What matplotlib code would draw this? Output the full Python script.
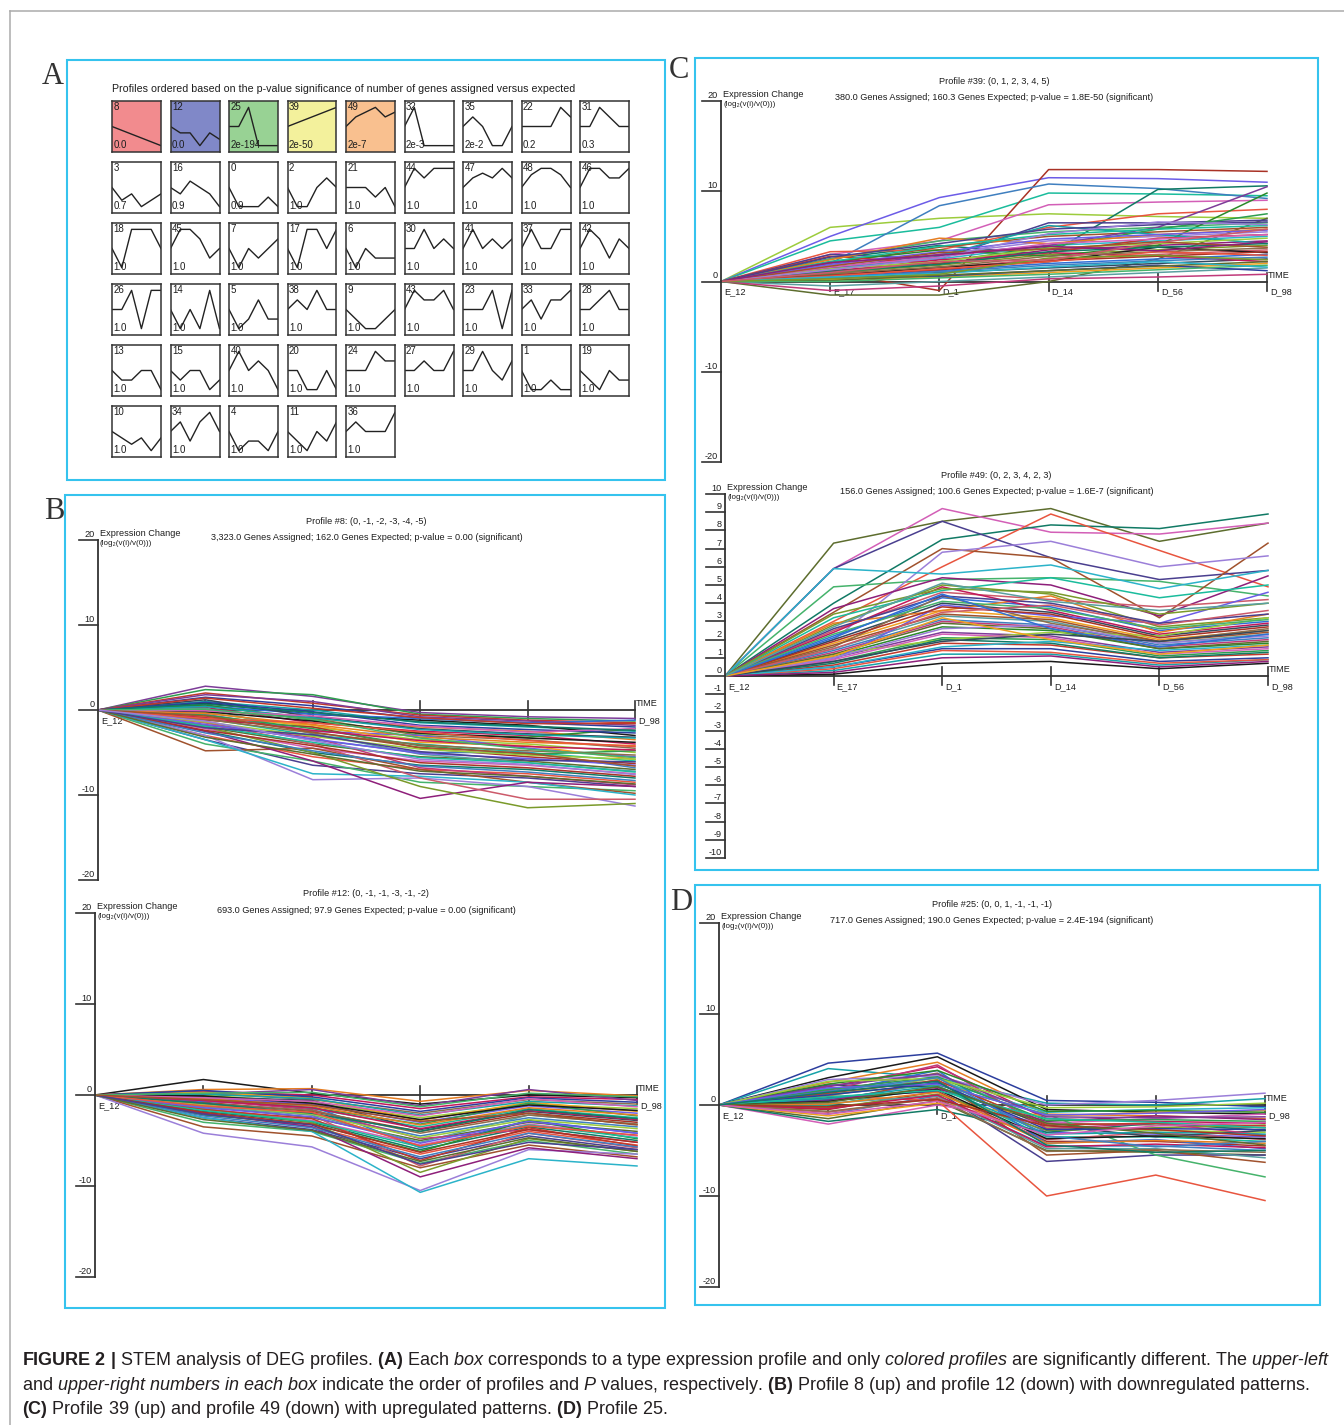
import numpy as np
import matplotlib
matplotlib.use('Agg')
import matplotlib.pyplot as plt
from matplotlib import font_manager
from matplotlib.patches import Rectangle

W, H = 1344, 1425

# fonts: STEM screenshots use a narrow Arial-like face
installed = {f.name for f in font_manager.fontManager.ttflist}
if 'Liberation Sans Narrow' in installed:
    stem_font = ['Liberation Sans Narrow', 'DejaVu Sans']
    fs = 8.0
else:
    stem_font = ['Liberation Sans', 'DejaVu Sans']
    fs = 6.6

plt.rcParams['font.family'] = ['Liberation Sans', 'DejaVu Sans']
plt.rcParams['mathtext.fontset'] = 'custom'
plt.rcParams['mathtext.rm'] = 'Liberation Sans'
plt.rcParams['mathtext.it'] = 'Liberation Sans:italic'
plt.rcParams['mathtext.bf'] = 'Liberation Sans:bold'

# ------------------------------------------------------------------
# data
# ------------------------------------------------------------------
time_labels = ['E_12', 'E_17', 'D_1', 'D_14', 'D_56', 'D_98']

# panel A: profile ids, p-values and model profile shapes
grid_ids = [[8, 12, 25, 39, 49, 32, 35, 22, 31],
            [3, 16, 0, 2, 21, 44, 47, 48, 46],
            [18, 45, 7, 17, 6, 30, 41, 37, 42],
            [26, 14, 5, 38, 9, 43, 23, 33, 28],
            [13, 15, 40, 20, 24, 27, 29, 1, 19],
            [10, 34, 4, 11, 36]]
grid_pvals = [['0.0', '0.0', '2e-194', '2e-50', '2e-7', '2e-3', '2e-2', '0.2', '0.3'],
              ['0.7', '0.9', '0.9', '1.0', '1.0', '1.0', '1.0', '1.0', '1.0'],
              ['1.0'] * 9,
              ['1.0'] * 9,
              ['1.0'] * 9,
              ['1.0'] * 5]
profiles = {
    8: [0, -1, -2, -3, -4, -5], 12: [0, -1, -1, -3, -1, -2], 25: [0, 0, 1, -1, -1, -1],
    39: [0, 1, 2, 3, 4, 5], 49: [0, 2, 3, 4, 2, 3], 32: [0, 1, -1, -1, -1, -1],
    35: [0, 1, 0, -2, -2, 0], 22: [0, 0, 0, 0, 2, 1], 31: [0, 0, 2, 1, 0, 0],
    3: [0, -2, -1, -3, -2, -1], 16: [0, -1, 1, 0, -1, -3], 0: [0, -2, -2, -2, -1, -2],
    2: [0, -2, -2, 0, 1, 0], 21: [0, 0, 0, -1, 0, -2], 44: [0, 2, 1, 2, 2, 2],
    47: [0, 2, 3, 2, 4, 2], 48: [0, 2, 3, 3, 2, 0], 46: [0, 2, 2, 1, 1, 2],
    18: [0, -2, 2, 2, 2, 0], 45: [0, 2, 2, 1, -1, 0], 7: [0, -2, 0, -1, 0, 1],
    17: [0, -2, 2, 2, 0, 2], 6: [0, -2, 0, -1, -1, -1], 30: [0, 0, 2, 0, 1, 0],
    41: [0, 2, 0, 1, 0, 1], 37: [0, 2, 0, 0, 2, 2], 42: [0, 2, 1, -1, 1, 0],
    26: [0, 0, 2, -2, 2, 2], 14: [0, -2, 0, -2, 2, -2], 5: [0, -2, -1, 1, -1, -1],
    38: [0, 1, 0, 2, 0, 0], 9: [0, -1, -2, -2, -1, 0], 43: [0, 2, 1, 1, 2, 0],
    23: [0, 0, 0, 2, -2, 2], 33: [0, 1, -1, 1, 1, 2], 28: [0, 0, 1, 2, 0, 0],
    13: [0, -1, -1, 0, 0, -2], 15: [0, -1, 0, 0, -2, -1], 40: [0, 2, 0, 1, 0, -2],
    20: [0, 0, -2, -2, 0, -2], 24: [0, 0, 0, 2, 1, 1], 27: [0, 0, 1, 0, 0, 2],
    29: [0, 0, 2, 0, -1, 1], 1: [0, -2, -2, -1, -2, -2], 19: [0, -1, -2, 0, -1, -1],
    10: [0, -1, -2, -1, -3, -1], 34: [0, 1, -1, 1, 2, 0], 4: [0, -2, -1, -1, -2, 0],
    11: [0, -1, -2, 0, -1, 1], 36: [0, 1, 0, 0, 0, 2],
}

# gene expression change (log2 v(i)/v(0))
genes_p8 = [
    [0, 2.8, 1.6, -0.3, -0.8, -1.0], [0, 2.4, 1.8, -0.5, -1.0, -1.3],
    [0, 2.0, 0.8, -0.6, -1.2, -1.5], [0, 1.5, 0.5, -1.0, -1.5, -2.0],
    [0, 1.0, 0.0, -1.5, -2.0, -2.5], [0, 0.8, -0.5, -1.2, -1.8, -3.0],
    [0, 0.5, -1.0, -2.0, -2.5, -3.5], [0, 0.3, -1.5, -2.5, -3.0, -4.0],
    [0, 0.0, -1.0, -3.0, -3.5, -4.5], [0, -0.3, -2.0, -3.5, -4.0, -5.0],
    [0, -0.5, -2.5, -3.0, -4.5, -5.5], [0, -1.0, -3.0, -4.0, -5.0, -6.0],
    [0, -1.2, -2.0, -4.5, -5.5, -6.3], [0, -1.5, -3.5, -5.0, -5.0, -6.8],
    [0, -2.0, -4.0, -5.5, -6.0, -7.0], [0, -2.2, -4.5, -6.0, -6.5, -7.5],
    [0, -2.5, -5.0, -6.5, -7.0, -8.0], [0, -3.0, -5.5, -7.0, -7.5, -8.5],
    [0, -3.5, -6.5, -7.5, -8.0, -9.0], [0, -4.0, -6.0, -8.5, -9.0, -9.5],
    [0, -4.8, -4.5, -7.0, -8.5, -9.8], [0, -3.0, -8.2, -8.0, -9.0, -11.3],
    [0, -3.5, -7.5, -7.8, -8.5, -10.0], [0, -2.5, -6.0, -10.4, -8.5, -9.0],
    [0, -2.0, -5.0, -9.0, -11.5, -11.0], [0, -1.5, -4.0, -8.0, -10.5, -10.5],
    [0, 0.5, -0.5, -1.0, -1.5, -1.2], [0, 1.2, -0.8, -2.2, -2.8, -3.2],
    [0, -0.8, -1.8, -3.8, -4.2, -5.8], [0, 0.2, -2.8, -5.2, -6.2, -7.2],
    [0, -1.8, -3.2, -6.8, -7.8, -8.8], [0, 0.6, -1.2, -2.8, -3.2, -2.2],
    [0, 1.8, 1.0, -0.8, -1.3, -1.8], [0, -0.6, -2.2, -4.2, -5.2, -4.8],
    [0, 1.4, 0.2, -0.9, -1.6, -1.6], [0, 0.9, -0.2, -1.8, -2.3, -2.7],
    [0, 0.4, -0.9, -2.3, -2.9, -3.3], [0, -0.2, -1.3, -2.7, -3.3, -3.8],
    [0, -0.4, -1.7, -3.2, -3.8, -4.2], [0, -0.9, -2.4, -3.6, -4.3, -4.7],
    [0, -1.1, -2.7, -4.1, -4.8, -5.3], [0, -1.4, -3.1, -4.6, -5.3, -5.8],
    [0, -1.7, -3.4, -5.1, -5.7, -6.5], [0, -1.9, -3.8, -5.6, -6.2, -7.3],
    [0, -2.4, -4.2, -6.2, -6.8, -7.8], [0, -2.7, -4.8, -6.6, -7.3, -8.3],
    [0, -3.2, -5.2, -7.2, -7.8, -8.7], [0, -0.1, -0.7, -1.9, -2.6, -2.2],
    [0, 0.7, -0.3, -1.4, -1.9, -2.4], [0, -1.0, -1.5, -2.6, -3.6, -4.3],
    [0, -2.1, -2.9, -4.9, -5.9, -6.1], [0, 0.1, -1.1, -3.3, -4.6, -5.6],
    [0, -0.7, -2.6, -4.4, -5.1, -6.6], [0, -1.3, -3.6, -5.8, -6.4, -7.6],
]
genes_p12 = [
    [0, 1.7, 0.2, -1.0, 0.0, -0.3], [0, 0.6, 0.7, -0.7, 0.5, -0.1],
    [0, 0.4, 0.0, -1.5, -0.2, -0.5], [0, 0.2, -0.5, -2.0, -0.5, -1.0],
    [0, 0.0, -0.8, -2.5, -1.0, -1.5], [0, -0.3, -1.0, -3.0, -1.2, -2.0],
    [0, -0.5, -1.5, -3.5, -1.5, -2.5], [0, -0.8, -1.8, -4.0, -2.0, -3.0],
    [0, -1.0, -2.0, -4.5, -2.5, -3.5], [0, -1.2, -2.5, -5.0, -3.0, -4.0],
    [0, -1.5, -2.8, -5.5, -3.2, -4.5], [0, -1.8, -3.0, -6.0, -3.5, -5.0],
    [0, -2.0, -3.5, -6.5, -4.0, -5.5], [0, -2.5, -3.8, -7.0, -4.5, -6.0],
    [0, -3.0, -4.0, -7.5, -5.0, -6.5], [0, -3.5, -4.5, -8.0, -5.5, -6.8],
    [0, -4.2, -5.7, -10.5, -6.0, -6.5], [0, -2.5, -4.0, -10.7, -7.0, -7.8],
    [0, -2.0, -3.5, -9.0, -5.8, -7.0], [0, -1.5, -3.0, -8.5, -4.8, -6.2],
    [0, -1.0, -2.2, -7.8, -4.2, -5.8], [0, -0.7, -1.2, -5.8, -2.8, -4.2],
    [0, -0.2, -0.6, -3.8, -1.8, -2.8], [0, 0.3, -0.3, -2.8, -0.8, -1.8],
    [0, -1.3, -2.2, -5.2, -2.2, -3.2], [0, -0.6, -1.6, -4.8, -3.8, -5.2],
    [0, -2.2, -3.2, -6.2, -2.8, -4.8], [0, 0.1, 0.6, -1.2, 0.6, -0.6],
    [0, -0.4, -1.4, -3.2, -0.9, -2.3], [0, -1.6, -2.6, -7.2, -3.6, -5.6],
    [0, 0.5, -0.2, -1.8, -0.3, -0.8], [0, 0.1, -0.4, -2.2, -0.7, -1.2],
    [0, -0.1, -0.9, -2.7, -1.1, -1.7], [0, -0.4, -1.2, -3.3, -1.4, -2.2],
    [0, -0.6, -1.4, -3.7, -1.7, -2.7], [0, -0.9, -1.7, -4.2, -2.2, -3.2],
    [0, -1.1, -2.1, -4.7, -2.7, -3.7], [0, -1.4, -2.4, -5.3, -2.9, -4.2],
    [0, -1.7, -2.9, -5.7, -3.3, -4.7], [0, -1.9, -3.2, -6.3, -3.8, -5.2],
    [0, -2.3, -3.6, -6.8, -4.2, -5.7], [0, -2.7, -3.9, -7.3, -4.7, -6.2],
    [0, -0.3, -0.7, -2.3, -0.4, -1.3], [0, -0.9, -2.0, -4.0, -1.6, -2.6],
    [0, -1.2, -1.9, -5.6, -3.4, -4.4], [0, -2.1, -3.3, -7.6, -5.2, -6.0],
    [0, 0.2, 0.3, -1.3, 0.2, -0.2], [0, -0.5, -1.1, -2.9, -2.0, -3.3],
]
genes_p39 = [
    [0, 6.0, 7.0, 7.5, 7.2, 7.0], [0, 5.0, 9.3, 11.5, 11.4, 11.0],
    [0, 4.5, 6.0, 9.8, 9.7, 9.5], [0, 1.0, -1.0, 12.4, 12.4, 12.2],
    [0, 2.0, 8.4, 10.8, 10.3, 9.2], [0, -1.5, -1.5, 0.0, 2.5, 7.0],
    [0, 3.0, 4.5, 8.5, 8.8, 9.0], [0, 2.5, 4.0, 3.0, 10.2, 10.6],
    [0, 3.3, 3.5, 6.0, 7.5, 8.0], [0, 3.0, 2.5, 6.5, 6.5, 6.8],
    [0, 2.5, 4.5, 5.5, 6.0, 6.5], [0, 2.0, 3.8, 5.0, 5.5, 6.0],
    [0, 1.8, 3.0, 4.5, 5.0, 5.5], [0, 1.5, 2.5, 4.0, 4.5, 5.0],
    [0, 1.2, 2.0, 3.5, 4.0, 4.5], [0, 1.0, 1.8, 3.0, 3.5, 4.0],
    [0, 0.8, 1.5, 2.5, 3.0, 3.5], [0, 0.5, 1.2, 2.0, 2.5, 3.0],
    [0, 0.3, 1.0, 1.5, 2.0, 2.5], [0, 0.2, 0.5, 1.0, 1.5, 2.0],
    [0, -0.5, 0.0, 0.5, 1.0, 1.5], [0, -1.0, -0.5, 0.3, 0.5, 0.8],
    [0, 2.2, 3.5, 2.8, 4.0, 9.8], [0, 1.5, 3.0, 4.0, 6.0, 10.5],
    [0, 0.8, 2.2, 3.8, 5.8, 7.5], [0, 2.8, 2.0, 3.2, 4.8, 5.2],
    [0, 0.4, 0.6, 1.2, 1.8, 1.2], [0, 1.3, 2.8, 6.2, 5.2, 4.2],
    [0, 0.6, 1.6, 2.2, 3.8, 3.2], [0, 2.4, 4.8, 4.2, 5.2, 5.8],
    [0, 1.1, 2.4, 3.2, 2.8, 2.2],
    [0, 0.9, 1.6, 2.8, 3.3, 3.7], [0, 1.4, 2.2, 3.7, 4.2, 4.8],
    [0, 1.9, 3.3, 4.7, 5.2, 5.7], [0, 2.2, 3.9, 5.2, 5.8, 6.2],
    [0, 0.7, 1.3, 2.3, 2.8, 3.3], [0, 0.4, 1.1, 1.8, 2.3, 2.7],
    [0, 0.1, 0.7, 1.2, 1.7, 2.2], [0, 1.6, 2.7, 4.2, 4.7, 5.2],
    [0, 1.1, 1.9, 3.3, 3.8, 4.2], [0, 0.6, 1.4, 2.2, 3.3, 2.9],
    [0, 2.7, 4.2, 5.8, 6.3, 6.6], [0, 0.0, 0.4, 0.8, 1.3, 1.8],
    [0, 1.7, 3.2, 3.6, 4.4, 3.8], [0, 1.3, 2.6, 5.3, 6.6, 6.3],
    [0, 0.5, 0.9, 1.6, 2.2, 1.6], [0, 2.1, 2.9, 3.9, 3.4, 4.4],
    [0, 0.3, 0.8, 2.6, 2.9, 2.4], [0, 1.0, 2.2, 2.4, 4.3, 5.8],
]
genes_p49 = [
    [0, 7.3, 8.5, 9.2, 7.4, 8.4], [0, 5.9, 9.2, 7.9, 7.8, 8.4],
    [0, 4.0, 7.5, 8.3, 8.1, 8.9], [0, 3.0, 6.0, 8.9, 6.9, 4.9],
    [0, 5.9, 8.5, 6.5, 5.3, 5.8], [0, 4.9, 5.3, 5.4, 5.2, 4.4],
    [0, 3.5, 7.0, 6.5, 3.2, 7.3], [0, 2.0, 6.8, 7.4, 6.0, 6.6],
    [0, 5.9, 5.6, 6.1, 4.8, 5.8], [0, 3.7, 5.4, 5.0, 3.3, 5.5],
    [0, 2.8, 5.0, 4.5, 2.7, 3.2], [0, 2.5, 4.6, 4.2, 3.8, 4.2],
    [0, 2.2, 4.3, 3.8, 2.5, 3.0], [0, 2.0, 4.0, 3.5, 2.2, 2.8],
    [0, 1.8, 3.6, 3.2, 2.0, 2.5], [0, 1.5, 3.3, 3.0, 1.8, 2.3],
    [0, 1.3, 3.0, 2.7, 1.6, 2.0], [0, 1.1, 2.7, 2.5, 1.5, 1.8],
    [0, 1.0, 2.4, 2.2, 1.3, 1.6], [0, 0.8, 2.1, 2.0, 1.1, 1.4],
    [0, 0.6, 1.8, 1.7, 1.0, 1.2], [0, 0.5, 1.5, 1.5, 0.8, 1.0],
    [0, 0.3, 1.2, 1.2, 0.6, 0.9], [0, 0.1, 0.7, 0.8, 0.4, 0.7],
    [0, 2.9, 3.6, 4.4, 2.4, 3.4], [0, 2.4, 4.9, 3.6, 2.3, 2.9],
    [0, 1.6, 4.4, 2.9, 1.9, 2.6], [0, 1.2, 2.0, 2.4, 2.2, 3.2],
    [0, 0.9, 3.9, 3.3, 2.9, 4.6], [0, 3.2, 4.7, 5.4, 4.3, 5.0],
    [0, 1.9, 3.8, 3.4, 2.1, 2.7], [0, 1.4, 3.1, 2.8, 1.7, 2.1],
    [0, 1.2, 2.9, 2.6, 1.5, 1.9], [0, 0.9, 2.3, 2.1, 1.2, 1.5],
    [0, 0.7, 2.0, 1.8, 1.0, 1.3], [0, 0.4, 1.4, 1.3, 0.7, 0.9],
    [0, 2.6, 4.4, 4.0, 2.9, 3.4], [0, 2.3, 4.1, 3.7, 2.6, 3.1],
    [0, 1.7, 3.4, 3.1, 1.9, 2.4], [0, 1.0, 2.6, 2.8, 1.8, 2.2],
    [0, 0.5, 1.6, 1.9, 1.4, 1.7], [0, 0.2, 1.0, 1.1, 0.5, 0.8],
    [0, 3.4, 4.8, 4.6, 3.4, 4.0], [0, 1.5, 3.5, 3.9, 2.8, 3.6],
    [0, 2.1, 4.5, 2.6, 1.6, 2.3], [0, 0.8, 1.9, 2.3, 1.9, 2.5],
    [0, 1.1, 3.2, 2.0, 1.2, 1.7], [0, 2.7, 5.1, 4.1, 3.6, 4.0],
]
genes_p25 = [
    [0, 4.6, 5.7, 0.5, 0.3, -0.2], [0, 4.0, 3.0, 0.2, 0.0, 0.7],
    [0, 3.0, 5.3, -0.5, -0.8, -1.0], [0, 2.5, 4.7, -1.0, -1.2, -1.5],
    [0, 2.0, 4.2, -1.5, -1.8, -2.0], [0, 1.5, 3.5, -2.0, -2.2, -2.5],
    [0, 1.0, 3.0, -2.5, -2.8, -3.0], [0, 0.5, 2.5, -3.0, -3.2, -3.5],
    [0, 0.0, 2.0, -3.5, -3.5, -4.0], [0, -0.5, 1.5, -4.0, -4.0, -4.5],
    [0, -1.0, 1.0, -4.5, -4.5, -5.0], [0, -1.5, 0.5, -5.0, -5.2, -5.5],
    [0, -2.1, 0.0, -2.0, -1.5, -1.0], [0, -1.8, -0.5, -3.0, -2.0, -2.8],
    [0, 1.0, 0.5, -10.0, -7.7, -10.5], [0, 0.8, 1.5, -6.2, -5.5, -5.5],
    [0, 1.2, 2.2, -1.0, -5.5, -7.9], [0, 0.3, 2.8, -5.5, -5.0, -6.3],
    [0, 2.8, 3.2, 0.0, 0.5, 1.3], [0, 1.8, 2.6, -0.8, -0.5, -0.3],
    [0, 0.6, 1.8, -1.8, -1.2, -1.6], [0, -0.3, 1.2, -2.8, -2.5, -2.2],
    [0, -0.8, 0.8, -3.8, -3.0, -3.8], [0, 1.3, 3.8, -4.2, -3.8, -4.8],
    [0, 2.2, 2.0, -2.2, -3.5, -2.8], [0, -1.2, 0.2, -1.2, -0.8, -0.6],
    [0, 0.2, 1.0, -4.8, -4.8, -5.8], [0, 1.6, 4.4, -2.6, -2.0, -3.3],
    [0, 2.3, 3.8, -0.7, -0.6, -0.8], [0, 2.1, 3.4, -1.3, -1.4, -1.3],
    [0, 1.7, 3.1, -1.7, -1.6, -1.8], [0, 1.3, 2.7, -2.2, -2.0, -2.3],
    [0, 1.1, 2.4, -2.7, -2.6, -2.7], [0, 0.7, 2.1, -3.2, -3.0, -3.2],
    [0, 0.4, 1.7, -3.7, -3.4, -3.7], [0, 0.1, 1.4, -4.2, -3.9, -4.2],
    [0, -0.4, 1.1, -4.6, -4.3, -4.7], [0, -0.7, 0.7, -5.1, -4.9, -5.2],
    [0, 2.6, 2.9, -0.3, -0.2, 0.2], [0, 1.9, 2.3, -1.1, -0.9, -0.5],
    [0, 0.9, 1.6, -1.5, -1.9, -2.5], [0, -0.2, 0.6, -2.3, -2.7, -3.4],
    [0, 1.5, 3.0, -3.4, -4.6, -4.0], [0, 0.3, 2.0, -2.0, -3.1, -4.4],
    [0, -1.0, 0.4, -3.3, -2.3, -1.9], [0, 1.4, 2.6, -4.4, -5.2, -5.0],
]

titles = {
    8: ('Profile #8: (0, -1, -2, -3, -4, -5)',
        '3,323.0 Genes Assigned; 162.0 Genes Expected; p-value = 0.00 (significant)'),
    12: ('Profile #12: (0, -1, -1, -3, -1, -2)',
         '693.0 Genes Assigned; 97.9 Genes Expected; p-value = 0.00 (significant)'),
    39: ('Profile #39: (0, 1, 2, 3, 4, 5)',
         '380.0 Genes Assigned; 160.3 Genes Expected; p-value = 1.8E-50 (significant)'),
    49: ('Profile #49: (0, 2, 3, 4, 2, 3)',
         '156.0 Genes Assigned; 100.6 Genes Expected; p-value = 1.6E-7 (significant)'),
    25: ('Profile #25: (0, 0, 1, -1, -1, -1)',
         '717.0 Genes Assigned; 190.0 Genes Expected; p-value = 2.4E-194 (significant)'),
}

# ------------------------------------------------------------------
# styles
# ------------------------------------------------------------------
box_colors = {8: '#f28b8e', 12: '#8088c8', 25: '#98d294', 39: '#f3f19c', 49: '#f9c08f'}
panel_c = '#35c3ee'
axis_c = '#333333'
text_c = '#1e1e1e'
pal = ['#7d3c98', '#2e9e4f', '#c0392b', '#2c3e9e', '#16a2a8', '#1a1a1a', '#e67e22',
       '#c2185b', '#8d6e4b', '#9ccc3c', '#6c5ce7', '#1abc9c', '#a93226', '#3f7fbf',
       '#5d6d2e', '#d35fb7', '#117a65', '#e8553f', '#4a3f8f', '#45b36b', '#a0522d',
       '#9b7fd9', '#2bb3c9', '#8e1f7a', '#7a9a2a', '#cc5a6a', '#2f6fd6', '#34495e',
       '#f0a020', '#5a9fa0', '#c0397a', '#2a8a2a']

fig = plt.figure(figsize=(W / 100, H / 100), dpi=100)
fig.patch.set_facecolor('white')


def px_axes(x0, y0, x1, y1):
    return fig.add_axes([x0 / W, 1 - y1 / H, (x1 - x0) / W, (y1 - y0) / H])


# background layer in pixel units for frames, letters and caption
bg = fig.add_axes([0, 0, 1, 1], zorder=-5)
bg.set_xlim(0, W)
bg.set_ylim(H, 0)
bg.axis('off')
bg.plot([10, 10], [11, H], color='#ababab', lw=1.1)
bg.plot([10, W], [11, 11], color='#ababab', lw=1.1)
for (x0, y0, x1, y1) in [(67, 60, 665, 480), (65, 495, 665, 1308),
                         (695, 58, 1318, 870), (695, 885, 1320, 1305)]:
    bg.add_patch(Rectangle((x0, y0), x1 - x0, y1 - y0, fill=False, ec=panel_c, lw=1.5))
for letter, (lx, ly) in zip('ABCD', [(53, 76), (54, 511), (679, 70), (681, 902)]):
    bg.text(lx, ly, letter, ha='center', va='center', fontsize=22,
            family='Liberation Serif', color='#333333')

# ------------------------------------------------------------------
# panel A: grid of model profiles
# ------------------------------------------------------------------
bg.text(112, 89, 'Profiles ordered based on the p-value significance of number of '
        'genes assigned versus expected', ha='left', va='center', fontsize=7.7,
        color=text_c)
for r, row in enumerate(grid_ids):
    for c, pid in enumerate(row):
        x0 = 112 + 58.5 * c
        y0 = 101 + 61 * r
        ax = px_axes(x0, y0, x0 + 49, y0 + 51)
        prof = np.array(profiles[pid], dtype=float)
        m = np.abs(prof).max()
        ax.plot(range(6), prof, color='#222222', lw=1.0)
        ax.set_xlim(0, 5)
        ax.set_ylim(-m * 1.333, m * 1.333)
        ax.set_xticks([])
        ax.set_yticks([])
        ax.set_facecolor(box_colors.get(pid, 'white'))
        for s in ax.spines.values():
            s.set_color('#333333')
            s.set_linewidth(1.1)
        ax.text(0.03, 0.98, str(pid), transform=ax.transAxes, ha='left', va='top',
                fontsize=7, color=text_c)
        ax.text(0.03, 0.03, grid_pvals[r][c], transform=ax.transAxes, ha='left',
                va='bottom', fontsize=7, color=text_c)


# ------------------------------------------------------------------
# cluster plots (B, C, D)
# ------------------------------------------------------------------
def stem_plot(x_axis, x_end, y_hi, y_lo, ymax, yticks, genes, title, shift,
              shown=(0, 1, 2, 3, 4, 5)):
    ax = px_axes(x_axis, y_hi, x_end, y_lo)
    ax.set_xlim(0, 5)
    ax.set_ylim(-ymax, ymax)
    ax.axis('off')
    upp = (y_lo - y_hi) / (2.0 * ymax)   # px per unit, y
    xpp = (x_end - x_axis) / 5.0          # px per unit, x
    kw = dict(family=stem_font, fontsize=fs, color=text_c, clip_on=False)

    ax.plot([0, 0], [-ymax, ymax], color=axis_c, lw=1.3, zorder=3, clip_on=False)
    ax.plot([0, 5], [0, 0], color=axis_c, lw=1.3, zorder=1.5, clip_on=False)
    for t in range(1, 6):
        ax.plot([t, t], [-9 / upp, 9 / upp], color=axis_c, lw=1.2, zorder=1.5,
                clip_on=False)
    for v in yticks:
        ax.plot([-19 / xpp, 0], [v, v], color=axis_c, lw=1.2, zorder=3, clip_on=False)
        ax.text(-3 / xpp, v + 1 / upp, str(v), ha='right', va='bottom', zorder=3, **kw)

    for t in shown:
        ax.text(t + 3 / xpp, -6 / upp, time_labels[t], ha='left', va='top',
                zorder=1, **kw)
    ax.text(5 + 1 / xpp, 2 / upp, 'TIME', ha='left', va='bottom', zorder=1, **kw)

    for i, g in enumerate(genes):
        ax.plot(range(6), g, color=pal[(i + shift) % len(pal)], lw=1.1, zorder=2,
                clip_on=False)

    ax.text(2 / xpp, ymax + 4 / upp, 'Expression Change', ha='left',
            va='baseline', zorder=3, **kw)
    ax.text(2 / xpp, ymax - 5 / upp, '(log\u2082(v(i)/v(0)))', ha='left',
            va='baseline', zorder=3, **dict(kw, fontsize=fs * 0.88))
    ax.text(2.5, ymax + 19 / upp, title[0], ha='center', va='center', **kw)
    ax.text(2.5, ymax + 3 / upp, title[1], ha='center', va='center', **kw)
    return ax


stem_plot(98, 635, 540, 880, 20, [20, 10, 0, -10, -20], genes_p8, titles[8], 0,
          shown=(0, 5))
stem_plot(95, 637, 913, 1277, 20, [20, 10, 0, -10, -20], genes_p12, titles[12], 5,
          shown=(0, 5))
stem_plot(721, 1267, 101, 462, 20, [20, 10, 0, -10, -20], genes_p39, titles[39], 9)
stem_plot(725, 1268, 494, 858, 10, list(range(10, -11, -1)), genes_p49, titles[49], 14)
stem_plot(719, 1265, 923, 1287, 20, [20, 10, 0, -10, -20], genes_p25, titles[25], 3,
          shown=(0, 2, 5))

# ------------------------------------------------------------------
# caption
# ------------------------------------------------------------------
cap_lines = [
    r'$\mathbf{FIGURE\ 2\ |}$ STEM analysis of DEG profiles. $\mathbf{(A)}$ Each '
    r'$\mathit{box}$ corresponds to a type expression profile and only '
    r'$\mathit{colored\ profiles}$ are significantly different. The '
    r'$\mathit{upper}$-$\mathit{left}$',
    r'and $\mathit{upper}$-$\mathit{right\ numbers\ in\ each\ box}$ indicate the order '
    r'of profiles and $\mathit{P}$ values, respectively. $\mathbf{(B)}$ Profile 8 (up) '
    r'and profile 12 (down) with downregulated patterns.',
    r'$\mathbf{(C)}$ Profile 39 (up) and profile 49 (down) with upregulated patterns. '
    r'$\mathbf{(D)}$ Profile 25.',
]
cap_texts = []
for i, line in enumerate(cap_lines):
    cap_texts.append(bg.text(22, 1365 + 24.5 * i, line, ha='left', va='baseline',
                             fontsize=12, color='#231f20'))
renderer = fig.canvas.get_renderer()
w0 = cap_texts[0].get_window_extent(renderer).width
size = 12 * 1309.0 / w0
for t in cap_texts:
    t.set_fontsize(size)

fig.savefig('out.png', dpi=100)
